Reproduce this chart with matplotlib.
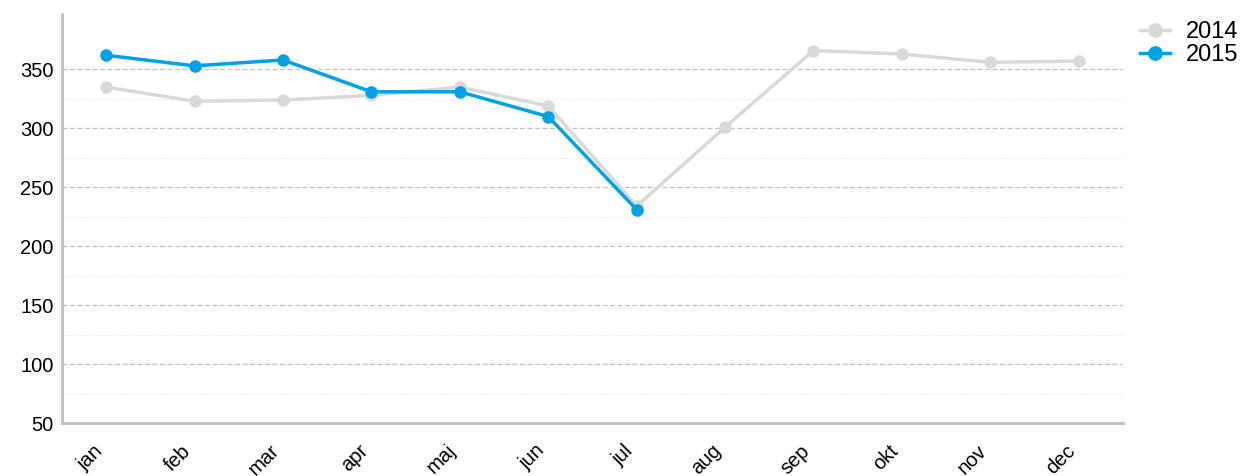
import matplotlib.pyplot as plt
from matplotlib.ticker import MultipleLocator, FixedLocator

plt.rcParams['font.family'] = ['Liberation Sans', 'DejaVu Sans']

# data
months = ['jan', 'feb', 'mar', 'apr', 'maj', 'jun', 'jul', 'aug', 'sep', 'okt', 'nov', 'dec']
values_2014 = [335, 323, 324, 328, 335, 319, 234, 301, 366, 363, 356, 357]
values_2015 = [362, 353, 358, 331, 331, 310, 231]

fig = plt.figure(figsize=(12.44, 4.76), dpi=100)
ax = fig.add_axes([0.0498, 0.1113, 0.8529, 0.8593])

x = list(range(len(months)))
ax.plot(x, values_2014, color='#d9d9d9', lw=2.5, marker='o', ms=8, label='2014', zorder=3)
ax.plot(x[:len(values_2015)], values_2015, color='#00a2e8', lw=2.5, marker='o', ms=8, label='2015', zorder=4)

ax.set_xlim(-0.5, 11.5)
ax.set_ylim(50, 397)
ax.set_xticks(x)
ax.set_xticklabels(months, rotation=45, ha='right', va='top', fontsize=14.5)
ax.yaxis.set_major_locator(MultipleLocator(50))
ax.yaxis.set_minor_locator(FixedLocator([75, 125, 175, 225, 275, 325]))
ax.tick_params(axis='y', labelsize=14.5, length=0, pad=6)
ax.tick_params(axis='y', which='minor', length=0)
ax.tick_params(axis='x', length=0, pad=13)

ax.grid(axis='y', which='major', color='#c4c4c4', linestyle=(0, (4, 2)), lw=0.9)
ax.grid(axis='y', which='minor', color='#ececec', linestyle=(0, (1, 1)), lw=0.8)

for s in ['top', 'right']:
    ax.spines[s].set_visible(False)
for s in ['left', 'bottom']:
    ax.spines[s].set_color('#c0c0c0')
    ax.spines[s].set_linewidth(2)

fig.legend(loc='upper left', bbox_to_anchor=(0.9164, 0.956), frameon=False, fontsize=17,
           handlelength=1.25, handletextpad=0.7, labelspacing=0.05, borderaxespad=0,
           borderpad=0, markerscale=1.2)

plt.savefig('out.png', dpi=100)
